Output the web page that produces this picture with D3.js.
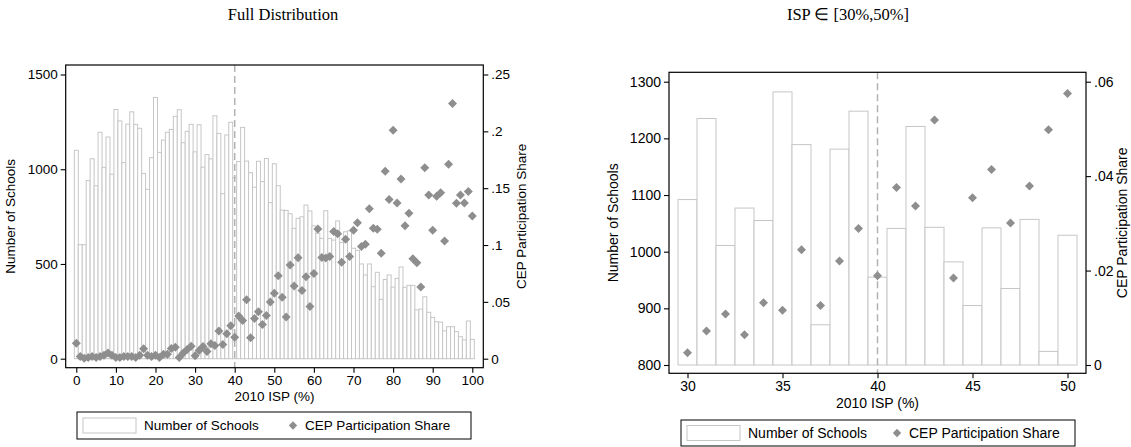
<!DOCTYPE html>
<html>
<head>
<meta charset="utf-8">
<script src="https://cdn.jsdelivr.net/npm/d3@7"></script>
<style>
  html, body { margin: 0; padding: 0; background: #fff; }
  svg { display: block; }
  text { font-family: "Liberation Sans", Arial, Helvetica, sans-serif; fill: #000; }
  .title { font-family: "Liberation Serif", "Times New Roman", serif; }
</style>
</head>
<body>
<svg id="chart" width="1131" height="447"></svg>
<script>
// ---------------- DATA ----------------
const isp = d3.range(0, 101); // 2010 ISP (%) categories 0..100

const schoolCounts = [
  1100, 602, 602, 940, 1055, 913, 1195, 1010, 1170, 974,
  1315, 1255, 1035, 1238, 1303, 1237, 1216, 978, 894, 1061,
  1379, 1089, 1154, 1195, 1210, 1279, 1314, 1140, 1200, 1237,
  1092, 1235, 1011, 1077, 1055, 1282, 1189, 871, 1181, 1248,
  955, 1041, 1221, 1043, 982, 905, 1042, 935, 1057, 824,
  1029, 913, 784, 783, 765, 688, 741, 749, 811, 780,
  701, 662, 635, 781, 635, 626, 727, 613, 670, 675,
  583, 572, 500, 442, 500, 380, 456, 313, 418, 442,
  378, 424, 484, 377, 387, 387, 258, 262, 327, 245,
  218, 195, 193, 147, 169, 169, 143, 116, 99, 199,
  102
];

const cepShare = [
  0.0136, 0.002, 0.0005, 0.001, 0.002, 0.001, 0.002, 0.003, 0.005, 0.003,
  0.001, 0.001, 0.002, 0.002, 0.002, 0.001, 0.003, 0.0088, 0.003, 0.002,
  0.003, 0.001, 0.004, 0.004, 0.009, 0.010, 0.001, 0.005, 0.008, 0.011,
  0.0026, 0.0072, 0.0108, 0.0064, 0.0132, 0.0116, 0.0244, 0.0126, 0.0220, 0.0289,
  0.0189, 0.0376, 0.0337, 0.0519, 0.0184, 0.0354, 0.0414, 0.0301, 0.0379, 0.0498,
  0.0575, 0.073, 0.054, 0.0367, 0.0825, 0.064, 0.0889, 0.060, 0.072, 0.046,
  0.075, 0.114, 0.089, 0.0886, 0.090, 0.1118, 0.110, 0.0848, 0.105, 0.0898,
  0.113, 0.1197, 0.0986, 0.1007, 0.132, 0.1148, 0.1139, 0.0928, 0.165, 0.140,
  0.201, 0.137, 0.158, 0.117, 0.128, 0.088, 0.0845, 0.063, 0.168, 0.144,
  0.113, 0.143, 0.146, 0.1036, 0.171, 0.2244, 0.1367, 0.144, 0.137, 0.147,
  0.1256
];

const cutoff = 40;
const zoomRange = [30, 50];

const fullXTicks = [0, 10, 20, 30, 40, 50, 60, 70, 80, 90, 100];
const fullYTicks = [0, 500, 1000, 1500];
const fullY2Ticks = [0, 0.05, 0.1, 0.15, 0.2, 0.25];
const zoomXTicks = [30, 35, 40, 45, 50];
const zoomYTicks = [800, 900, 1000, 1100, 1200, 1300];
const zoomY2Ticks = [0, 0.02, 0.04, 0.06];

const titles = ["Full Distribution", "ISP \u2208 [30%,50%]"];
const xTitle = "2010 ISP (%)";
const yTitle = "Number of Schools";
const y2Title = "CEP Participation Share";
const legendLabels = ["Number of Schools", "CEP Participation Share"];

// ---------------- STYLE ----------------
const barStroke = "#c6c6c6";
const markColor = "#8e8e8e";
const dashColor = "#b2b2b2";

const svg = d3.select("#chart");

const shareFmt = d => d === 0 ? "0" : d3.format(".2~f")(d).replace(/^0/, "");

const rows = isp.map((v, i) => ({ isp: v, count: schoolCounts[i], share: cepShare[i] }));

function diamond(r) {
  return `M0,${-r}L${r},0L0,${r}L${-r},0Z`;
}

function panel(cfg) {
  const g = svg.append("g");
  const f = cfg.frame;
  const x = d3.scaleLinear().domain(cfg.xDomain).range(cfg.xRange);
  const y = d3.scaleLinear().domain(cfg.yDomain).range(cfg.yRange);
  const y2 = d3.scaleLinear().domain(cfg.y2Domain).range(cfg.yRange);
  const bw = x(1) - x(0);
  const base = cfg.yDomain[0];

  // bars
  g.append("g").selectAll("rect").data(cfg.data).join("rect")
    .attr("x", d => x(d.isp - 0.5))
    .attr("y", d => y(d.count))
    .attr("width", bw)
    .attr("height", d => y(base) - y(d.count))
    .attr("fill", "#fff")
    .attr("stroke", barStroke)
    .attr("stroke-width", 1);

  // cutoff line
  g.append("line")
    .attr("x1", x(cutoff)).attr("x2", x(cutoff))
    .attr("y1", f.y0).attr("y2", f.y1)
    .attr("stroke", dashColor).attr("stroke-width", 1.5)
    .attr("stroke-dasharray", "7,4");

  // diamonds
  g.append("g").selectAll("path").data(cfg.data).join("path")
    .attr("transform", d => `translate(${x(d.isp)},${y2(d.share)})`)
    .attr("d", diamond(cfg.dr))
    .attr("fill", markColor);

  // frame
  g.append("rect")
    .attr("x", f.x0).attr("y", f.y0)
    .attr("width", f.x1 - f.x0).attr("height", f.y1 - f.y0)
    .attr("fill", "none").attr("stroke", "#000").attr("stroke-width", 1.2);

  // axes
  const ax = g.append("g").attr("transform", `translate(0,${f.y1})`)
    .call(d3.axisBottom(x).tickValues(cfg.xTicks).tickSize(5).tickPadding(3).tickFormat(d3.format("d")));
  const ay = g.append("g").attr("transform", `translate(${f.x0},0)`)
    .call(d3.axisLeft(y).tickValues(cfg.yTicks).tickSize(5).tickPadding(3).tickFormat(d3.format("d")));
  const ay2 = g.append("g").attr("transform", `translate(${f.x1},0)`)
    .call(d3.axisRight(y2).tickValues(cfg.y2Ticks).tickSize(5).tickPadding(3).tickFormat(shareFmt));
  [ax, ay, ay2].forEach(a => {
    a.select(".domain").remove();
    a.selectAll("line").attr("stroke", "#000").attr("stroke-width", 1.1);
    a.selectAll("text").attr("font-size", cfg.tickFont)
      .attr("font-family", "Liberation Sans, Arial, sans-serif").attr("fill", "#111");
  });

  // titles
  svg.append("text").attr("class", "title")
    .attr("x", cfg.titleX).attr("y", 20).attr("text-anchor", "middle")
    .attr("font-size", 16.5).text(cfg.title);
  svg.append("text")
    .attr("x", (f.x0 + f.x1) / 2).attr("y", cfg.xTitleY).attr("text-anchor", "middle")
    .attr("dominant-baseline", "central").attr("font-size", cfg.labelFont).text(xTitle);
  const cy = (f.y0 + f.y1) / 2;
  svg.append("text")
    .attr("transform", `translate(${cfg.yTitleX},${cy}) rotate(-90)`)
    .attr("text-anchor", "middle").attr("dominant-baseline", "central")
    .attr("font-size", cfg.labelFont).text(yTitle);
  svg.append("text")
    .attr("transform", `translate(${cfg.y2TitleX},${cy}) rotate(-90)`)
    .attr("text-anchor", "middle").attr("dominant-baseline", "central")
    .attr("font-size", cfg.labelFont).text(y2Title);

  // legend
  const L = cfg.legend;
  const lg = svg.append("g").attr("transform", `translate(${L.x},${L.y})`);
  lg.append("rect").attr("width", L.w).attr("height", L.h)
    .attr("fill", "#fff").attr("stroke", "#000").attr("stroke-width", 1);
  lg.append("rect").attr("x", 6).attr("y", (L.h - 15) / 2).attr("width", 53).attr("height", 15)
    .attr("fill", "#fff").attr("stroke", barStroke);
  lg.append("text").attr("x", 67).attr("y", L.h / 2).attr("dominant-baseline", "central")
    .attr("font-size", cfg.labelFont).text(legendLabels[0]);
  lg.append("path").attr("transform", `translate(216,${L.h / 2})`).attr("d", diamond(4.2)).attr("fill", markColor);
  lg.append("text").attr("x", 228).attr("y", L.h / 2).attr("dominant-baseline", "central")
    .attr("font-size", cfg.labelFont).text(legendLabels[1]);
}

panel({
  data: rows,
  frame: { x0: 65.7, x1: 483.3, y0: 65, y1: 367.7 },
  xDomain: [0, 100], xRange: [76.3, 472.3],
  yDomain: [0, 1500], yRange: [358.7, 74.5],
  y2Domain: [0, 0.25],
  xTicks: fullXTicks, yTicks: fullYTicks, y2Ticks: fullY2Ticks,
  dr: 4.5, tickFont: 13.5, labelFont: 13.5,
  title: titles[0], titleX: 283,
  xTitleY: 396, yTitleX: 10, y2TitleX: 521.5,
  legend: { x: 77, y: 412, w: 394, h: 27 }
});

panel({
  data: rows.filter(d => d.isp >= zoomRange[0] && d.isp <= zoomRange[1]),
  frame: { x0: 669, x1: 1086, y0: 72.3, y1: 373.3 },
  xDomain: [30, 50], xRange: [687.5, 1067.5],
  yDomain: [800, 1300], yRange: [365, 81.7],
  y2Domain: [0, 0.06],
  xTicks: zoomXTicks, yTicks: zoomYTicks, y2Ticks: zoomY2Ticks,
  dr: 4.5, tickFont: 14, labelFont: 14,
  title: titles[1], titleX: 848,
  xTitleY: 403, yTitleX: 613, y2TitleX: 1121.5,
  legend: { x: 681, y: 420, w: 394, h: 26 }
});
</script>
</body>
</html>
